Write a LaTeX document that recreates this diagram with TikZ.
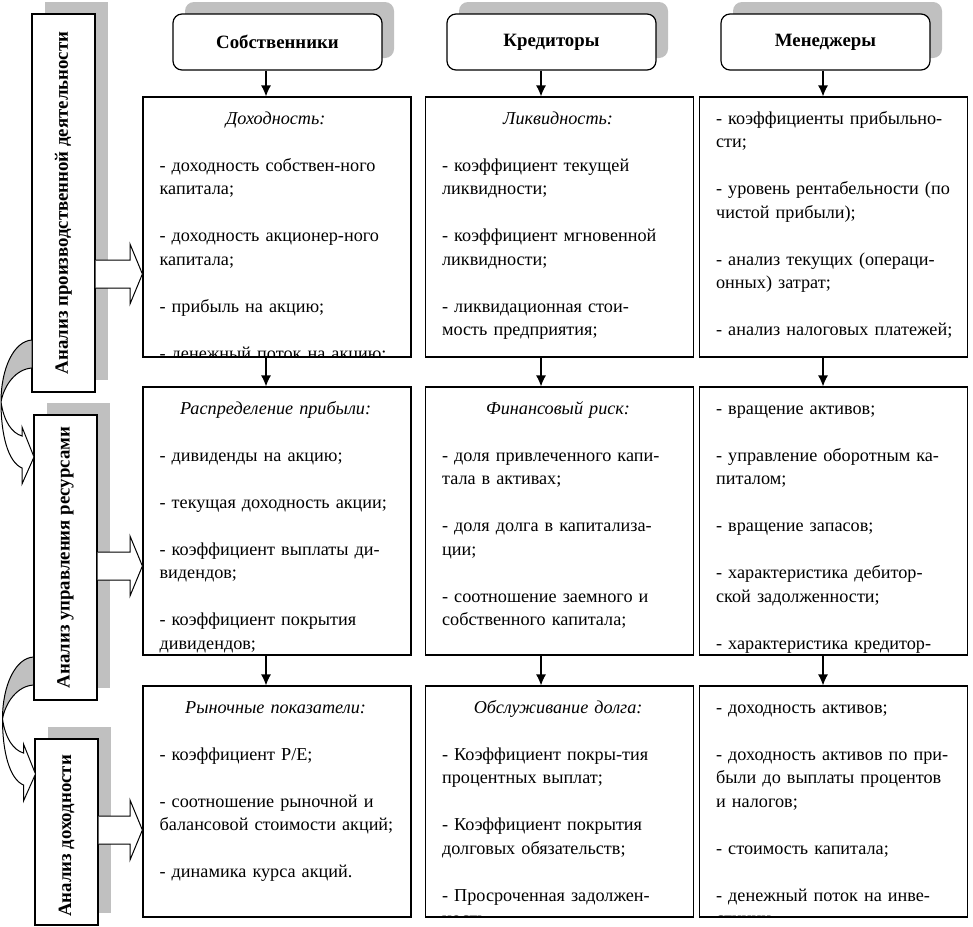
\documentclass[tikz,border=0pt]{standalone}
\usepackage{fontspec}
\setmainfont{Liberation Serif}
\usetikzlibrary{arrows.meta,shadows,calc}
\definecolor{shgray}{RGB}{192,192,192}

\begin{document}
\begin{tikzpicture}[x=1pt, y=-1pt,
	hdr/.style={draw, line width=1.2pt, fill=white, rounded corners=9pt,
		minimum width=209pt, minimum height=56pt,
		font=\fontsize{18.8}{23.5}\selectfont\bfseries,
		drop shadow={shadow xshift=12pt, shadow yshift=12pt, fill=shgray, opacity=1}},
	vbox/.style={draw, line width=1.2pt, fill=white, minimum width=63pt, inner sep=0pt,
		drop shadow={shadow xshift=13pt, shadow yshift=12pt, fill=shgray, opacity=1}},
	vlbl/.style={rotate=90, inner sep=0pt, font=\fontsize{18.8}{23.5}\selectfont\bfseries},
	cbox/.style={draw, line width=1.2pt, minimum width=268pt, inner sep=0pt},
	ctext/.style={anchor=north west, inner sep=0pt, text width=262pt, align=left,
		font=\fontsize{18.2}{23.5}\selectfont},
	darr/.style={line width=1.2pt, -{Latex[length=11pt, width=10pt]}},
	barr/.style={line width=1pt, fill=white},
	carr/.style={line width=1pt},
]
	\useasboundingbox (0,0) rectangle (973,926);
	
	% headers
	\node[hdr] (own) at (277.5,42) {Собственники};
	\node[hdr] (cred) at (551.5,42) {Кредиторы};
	\node[hdr] (mgr) at (825.5,42) {Менеджеры};
	
	% analysis boxes on the left
	\node[vbox, minimum height=378pt] (v1) at (63.5,203) {};
	\node[vbox, minimum height=285pt] (v2) at (65.5,557.5) {};
	\node[vbox, minimum height=186pt] (v3) at (66.5,832) {};
	\node[vlbl] (v1t) at (v1) {Анализ производственной деятельности};
	\node[vlbl] (v2t) at (v2) {Анализ управления ресурсами};
	\node[vlbl] (v3t) at ([yshift=-4pt]v3.center) {Анализ доходности};
	
	% content boxes
	\foreach \r/\cy/\h in {1/227/260, 2/521/268, 3/801.5/231}
		\foreach \c/\cx in {1/277, 2/559.5, 3/833.5}
			\node[cbox, minimum height=\h pt] (c\r\c) at (\cx,\cy) {};
	
	\begin{scope}
		\clip (c11.south west) rectangle (c11.north east);
		\node[ctext] (t11) at ($(c11.north west)+(17,11)$) {\strut\makebox[232pt]{\itshape Доходность:}\\[23.5pt]
			- доходность собствен-ного\\ капитала;\\[23.5pt]
			- доходность акционер-ного\\ капитала;\\[23.5pt]
			- прибыль на акцию;\\[23.5pt]
			- денежный поток на акцию;};
	\end{scope}
	\begin{scope}
		\clip (c12.south west) rectangle (c12.north east);
		\node[ctext] (t12) at ($(c12.north west)+(17,11)$) {\strut\makebox[232pt]{\itshape Ликвидность:}\\[23.5pt]
			- коэффициент текущей\\ ликвидности;\\[23.5pt]
			- коэффициент мгновенной\\ ликвидности;\\[23.5pt]
			- ликвидационная стои-\\ мость предприятия;};
	\end{scope}
	\begin{scope}
		\clip (c13.south west) rectangle (c13.north east);
		\node[ctext] (t13) at ($(c13.north west)+(17,11)$) {\strut- коэффициенты прибыльно-\\ сти;\\[23.5pt]
			- уровень рентабельности (по\\ чистой прибыли);\\[23.5pt]
			- анализ текущих (операци-\\ онных) затрат;\\[23.5pt]
			- анализ налоговых платежей;};
	\end{scope}
	\begin{scope}
		\clip (c21.south west) rectangle (c21.north east);
		\node[ctext] (t21) at ($(c21.north west)+(17,11)$) {\strut\makebox[232pt]{\itshape Распределение прибыли:}\\[23.5pt]
			- дивиденды на акцию;\\[23.5pt]
			- текущая доходность акции;\\[23.5pt]
			- коэффициент выплаты ди-\\ видендов;\\[23.5pt]
			- коэффициент покрытия\\ дивидендов;};
	\end{scope}
	\begin{scope}
		\clip (c22.south west) rectangle (c22.north east);
		\node[ctext] (t22) at ($(c22.north west)+(17,11)$) {\strut\makebox[232pt]{\itshape Финансовый риск:}\\[23.5pt]
			- доля привлеченного капи-\\ тала в активах;\\[23.5pt]
			- доля долга в капитализа-\\ ции;\\[23.5pt]
			- соотношение заемного и\\ собственного капитала;};
	\end{scope}
	\begin{scope}
		\clip (c23.south west) rectangle (c23.north east);
		\node[ctext] (t23) at ($(c23.north west)+(17,11)$) {\strut- вращение активов;\\[23.5pt]
			- управление оборотным ка-\\ питалом;\\[23.5pt]
			- вращение запасов;\\[23.5pt]
			- характеристика дебитор-\\ ской задолженности;\\[23.5pt]
			- характеристика кредитор-};
	\end{scope}
	\begin{scope}
		\clip (c31.south west) rectangle (c31.north east);
		\node[ctext] (t31) at ($(c31.north west)+(17,11)$) {\strut\makebox[232pt]{\itshape Рыночные показатели:}\\[23.5pt]
			- коэффициент Р/Е;\\[23.5pt]
			- соотношение рыночной и\\ балансовой стоимости акций;\\[23.5pt]
			- динамика курса акций.};
	\end{scope}
	\begin{scope}
		\clip (c32.south west) rectangle (c32.north east);
		\node[ctext] (t32) at ($(c32.north west)+(17,11)$) {\strut\makebox[232pt]{\itshape Обслуживание долга:}\\[23.5pt]
			- Коэффициент покры-тия\\ процентных выплат;\\[23.5pt]
			- Коэффициент покрытия\\ долговых обязательств;\\[23.5pt]
			- Просроченная задолжен-\\ ность};
	\end{scope}
	\begin{scope}
		\clip (c33.south west) rectangle (c33.north east);
		\node[ctext] (t33) at ($(c33.north west)+(17,11)$) {\strut- доходность активов;\\[23.5pt]
			- доходность активов по при-\\ были до выплаты процентов\\ и налогов;\\[23.5pt]
			- стоимость капитала;\\[23.5pt]
			- денежный поток на инве-\\ стиции};
	\end{scope}
	
	% arrows down the columns
	\foreach \h/\x/\c in {own/266/1, cred/541/2, mgr/823/3} {
		\draw[darr] (\x,0 |- \h.south) -- (\x,0 |- c1\c.north);
		\draw[darr] (\x,0 |- c1\c.south) -- (\x,0 |- c2\c.north);
		\draw[darr] (\x,0 |- c2\c.south) -- (\x,0 |- c3\c.north);
	}
	
	% block arrows into the rows
	\foreach \v/\c/\y in {v1/c11/274, v2/c21/566, v3/c31/830}
		\draw[barr] (\v.east |- 0,\y-14) -- (130,\y-14) -- (130,\y-30) -- (\c.west |- 0,\y)
			-- (130,\y+30) -- (130,\y+14) -- (\v.east |- 0,\y+14);
	
	% curved arrows between the analysis boxes
	\foreach \s in {0,317} {
		\begin{scope}[shift={(1.5*\s/317,\s)}]
			\filldraw[carr, fill=shgray] (32,340) .. controls (14,341) and (1,368) .. (1,402)
				.. controls (4,385) and (16,369) .. (32,368) -- cycle;
			\filldraw[carr, fill=white] (1,402) .. controls (4,422) and (12,433) .. (22,436)
				-- (22,427) -- (34,457) -- (22,484) -- (22,468)
				.. controls (8,462) and (1,435) .. (1,402) -- cycle;
		\end{scope}
	}
\end{tikzpicture}
\end{document}
